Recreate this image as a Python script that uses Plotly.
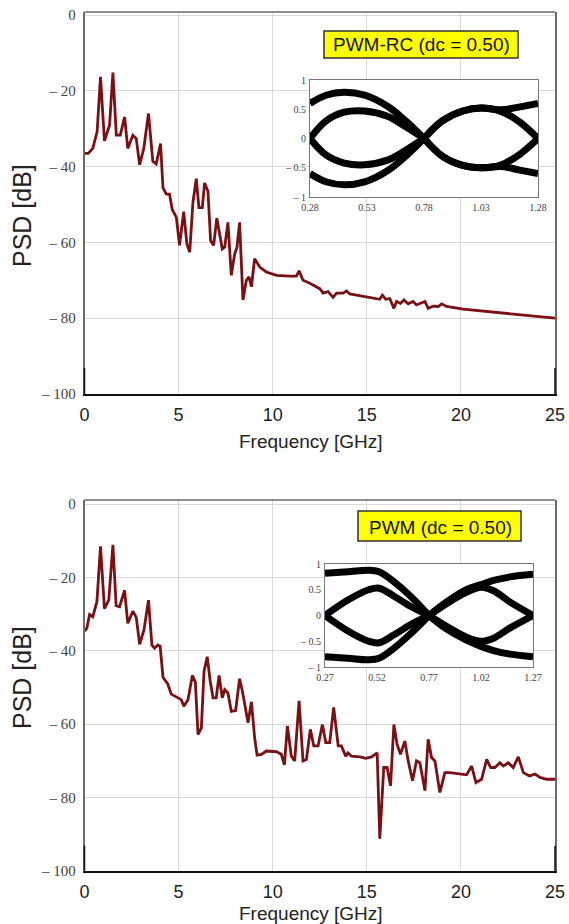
import plotly.graph_objects as go

# ---------------- data ----------------
freq_rc = [0, 0.2, 0.44, 0.67, 0.85, 1.06, 1.33, 1.51, 1.69, 1.9,
           2.13, 2.3, 2.57, 2.75, 2.93, 3.15, 3.4, 3.63, 3.81, 4.04,
           4.17, 4.34, 4.52, 4.66, 4.88, 5.05, 5.27, 5.44, 5.59, 5.76,
           5.94, 6.08, 6.26, 6.38, 6.56, 6.7, 6.86, 7.03, 7.18, 7.32,
           7.45, 7.62, 7.8, 7.98, 8.1, 8.24, 8.42, 8.6, 8.74, 8.87,
           9.04, 9.31, 9.66, 10.2, 10.9, 11.26, 11.4, 11.61, 11.97, 12.23,
           12.5, 12.68, 12.94, 13.21, 13.39, 13.74, 13.92, 14.1, 15.69, 15.83,
           16.01, 16.22, 16.44, 16.58, 16.79, 16.97, 17.2, 17.46, 17.64, 18.09,
           18.26, 18.53, 18.8, 18.97, 19.24, 20.12, 21.36, 22.78, 25.0]
psd_rc = [-36.5, -36.5, -35.2, -30.8, -16.3, -33.2, -29.1, -15.2, -31.7, -31.7,
          -26.9, -35.2, -31.7, -32.6, -39.5, -35.2, -26.0, -38.6, -39.3, -33.9,
          -45.6, -47.2, -47.3, -51.3, -53.4, -60.8, -51.9, -60.4, -62.6, -49.5,
          -43.2, -50.8, -50.8, -44.3, -46.5, -59.5, -60.8, -53.6, -57.8, -61.7,
          -61.2, -54.7, -68.7, -63.0, -61.3, -54.7, -75.2, -70.0, -69.1, -71.7,
          -64.3, -66.5, -67.8, -68.7, -68.9, -68.9, -67.5, -70.0, -70.8, -71.5,
          -72.2, -73.4, -73.0, -74.5, -73.4, -73.4, -72.8, -73.6, -75.0, -73.9,
          -75.0, -74.8, -77.4, -75.6, -76.1, -75.2, -76.2, -75.6, -76.5, -75.6,
          -77.4, -76.8, -76.9, -76.2, -76.9, -77.6, -78.2, -78.9, -80.0]

freq_pwm = [0, 0.12, 0.27, 0.44, 0.66, 0.85, 1.06, 1.29, 1.51, 1.68,
            1.86, 2.13, 2.3, 2.57, 2.75, 2.93, 3.16, 3.4, 3.58, 3.72,
            3.9, 4.02, 4.17, 4.43, 4.61, 4.96, 5.14, 5.28, 5.5, 5.73,
            5.89, 6.03, 6.21, 6.35, 6.52, 6.68, 6.83, 7.0, 7.15, 7.32,
            7.45, 7.62, 7.8, 8.03, 8.24, 8.39, 8.6, 8.69, 8.87, 9.04,
            9.17, 9.4, 9.66, 10.2, 10.46, 10.62, 10.78, 10.99, 11.17, 11.40,
            11.61, 11.79, 12.0, 12.18, 12.41, 12.64, 12.82, 13.03, 13.24, 13.48,
            13.65, 13.88, 14.0, 14.18, 14.63, 14.95, 15.25, 15.55, 15.69, 15.90,
            16.08, 16.26, 16.44, 16.61, 16.79, 17.02, 17.20, 17.43, 17.64, 17.82,
            18.09, 18.26, 18.44, 18.62, 18.88, 19.15, 19.41, 19.86, 20.30, 20.57,
            20.80, 21.10, 21.37, 21.58, 21.81, 22.07, 22.25, 22.52, 22.78, 23.05,
            23.32, 23.64, 23.94, 24.20, 24.56, 25.0]
psd_pwm = [-34.6, -33.9, -30.1, -30.7, -26.6, -11.5, -28.5, -26.2, -11.1, -27.7,
           -28.0, -23.5, -32.5, -29.2, -30.9, -38.2, -34.3, -26.2, -38.4, -39.3,
           -38.4, -38.8, -47.2, -49.1, -51.8, -52.8, -53.3, -55.1, -53.3, -46.7,
           -48.5, -62.8, -61.0, -45.6, -41.6, -48.3, -52.8, -52.8, -46.7, -52.8,
           -50.6, -51.5, -56.5, -56.3, -47.6, -51.0, -57.8, -59.6, -53.9, -63.7,
           -68.4, -68.2, -67.3, -67.5, -68.2, -71.1, -60.5, -68.7, -70.0, -53.6,
           -70.0, -69.6, -61.4, -65.9, -65.9, -60.1, -65.0, -65.0, -55.4, -65.9,
           -65.9, -68.7, -67.8, -68.7, -68.9, -69.3, -68.9, -67.8, -91.2, -71.8,
           -71.8, -76.8, -60.1, -65.5, -68.2, -64.6, -70.0, -75.4, -70.0, -70.5,
           -78.1, -64.1, -69.1, -70.0, -78.6, -73.2, -73.2, -73.6, -73.8, -71.4,
           -75.9, -75.0, -69.6, -71.8, -71.8, -70.5, -71.4, -70.5, -71.8, -68.9,
           -73.2, -74.1, -73.6, -74.5, -75.0, -75.0]

freq_ticks = [0, 5, 10, 15, 20, 25]
psd_ticks = [-100, -80, -60, -40, -20, 0]
psd_ticktext = ["\u2013 100", "\u2013 80", "\u2013 60", "\u2013 40", "\u2013 20", "0"]

# eye diagram traces (time [ns], amplitude) — PWM-RC
eye_rc_left_x = [0.28, 0.35, 0.43, 0.52, 0.62, 0.70, 0.78]
eye_rc_outer_hi_l = [0.60, 0.74, 0.79, 0.74, 0.55, 0.30, 0.0]
eye_rc_inner_hi_l = [0.0, 0.30, 0.45, 0.47, 0.38, 0.20, 0.0]
eye_rc_inner_lo_l = [0.0, -0.28, -0.42, -0.45, -0.37, -0.20, 0.0]
eye_rc_outer_lo_l = [-0.60, -0.74, -0.79, -0.74, -0.55, -0.30, 0.0]
eye_rc_right_x = [0.78, 0.86, 0.95, 1.03, 1.12, 1.20, 1.28]
eye_rc_outer_hi_r = [0.0, 0.30, 0.47, 0.52, 0.49, 0.54, 0.60]
eye_rc_inner_hi_r = [0.0, 0.30, 0.47, 0.52, 0.46, 0.28, 0.0]
eye_rc_inner_lo_r = [0.0, -0.30, -0.46, -0.50, -0.45, -0.27, 0.0]
eye_rc_outer_lo_r = [0.0, -0.30, -0.46, -0.50, -0.48, -0.54, -0.60]
eye_rc_xticks = [0.28, 0.53, 0.78, 1.03, 1.28]

# eye diagram traces — PWM
eye_pwm_left_x = [0.27, 0.38, 0.48, 0.53, 0.60, 0.68, 0.77]
eye_pwm_outer_hi_l = [0.82, 0.85, 0.88, 0.85, 0.66, 0.38, 0.0]
eye_pwm_inner_hi_l = [0.0, 0.30, 0.50, 0.53, 0.38, 0.18, 0.0]
eye_pwm_inner_lo_l = [0.0, -0.30, -0.50, -0.53, -0.38, -0.18, 0.0]
eye_pwm_outer_lo_l = [-0.80, -0.83, -0.86, -0.83, -0.64, -0.36, 0.0]
eye_pwm_right_x = [0.77, 0.85, 0.95, 1.02, 1.08, 1.16, 1.27]
eye_pwm_outer_hi_r = [0.0, 0.25, 0.50, 0.60, 0.68, 0.75, 0.80]
eye_pwm_inner_hi_r = [0.0, 0.22, 0.45, 0.55, 0.48, 0.26, 0.0]
eye_pwm_inner_lo_r = [0.0, -0.20, -0.42, -0.50, -0.44, -0.24, 0.0]
eye_pwm_outer_lo_r = [0.0, -0.25, -0.48, -0.60, -0.68, -0.75, -0.80]
eye_pwm_xticks = [0.27, 0.52, 0.77, 1.02, 1.27]

eye_yticks = [-1, -0.5, 0, 0.5, 1]
eye_yticktext = ["\u2013 1", "\u2013 0.5", "0", "0.5", "1"]

# ---------------- figure ----------------
W, H = 569, 924
def px_x(p):
    return p / W
def px_y(p):
    return 1 - p / H

CURVE = "#7a1014"
SANS = "Liberation Sans, Arial, sans-serif"
SERIF = "Liberation Serif, Times New Roman, serif"

fig = go.Figure()
fig.add_trace(go.Scatter(x=freq_rc, y=psd_rc, mode="lines",
                         line=dict(color=CURVE, width=2.8), xaxis="x", yaxis="y"))
fig.add_trace(go.Scatter(x=freq_pwm, y=psd_pwm, mode="lines",
                         line=dict(color=CURVE, width=2.8), xaxis="x2", yaxis="y2"))

eye_line = dict(color="black", width=7, shape="spline", smoothing=1.0)
for xs, ys_list, ax in [
    (eye_rc_left_x, [eye_rc_outer_hi_l, eye_rc_inner_hi_l, eye_rc_inner_lo_l, eye_rc_outer_lo_l], "3"),
    (eye_rc_right_x, [eye_rc_outer_hi_r, eye_rc_inner_hi_r, eye_rc_inner_lo_r, eye_rc_outer_lo_r], "3"),
    (eye_pwm_left_x, [eye_pwm_outer_hi_l, eye_pwm_inner_hi_l, eye_pwm_inner_lo_l, eye_pwm_outer_lo_l], "4"),
    (eye_pwm_right_x, [eye_pwm_outer_hi_r, eye_pwm_inner_hi_r, eye_pwm_inner_lo_r, eye_pwm_outer_lo_r], "4"),
]:
    for ys in ys_list:
        fig.add_trace(go.Scatter(x=xs, y=ys, mode="lines", line=eye_line,
                                 xaxis="x" + ax, yaxis="y" + ax))

main_x = dict(range=[0, 25], tickvals=freq_ticks, showgrid=True, gridcolor="#d9d9d9",
              gridwidth=1, zeroline=False, showline=True, linecolor="#111", linewidth=1.5,
              ticks="outside", ticklen=4, tickcolor="rgba(0,0,0,0)", automargin=False,
              tickfont=dict(family=SANS, size=18, color="#222"))
main_y = dict(range=[-100, 0.8], tickvals=psd_ticks, ticktext=psd_ticktext, showgrid=True,
              gridcolor="#d9d9d9", gridwidth=1, zeroline=False, showline=True,
              linecolor="#6a6a6a", linewidth=1.5, mirror=True, automargin=False,
              ticks="outside", ticklen=4, tickcolor="rgba(0,0,0,0)",
              tickfont=dict(family=SERIF, size=15, color="#444"))
inset_x = dict(showgrid=False, zeroline=False, showline=True, linecolor="#777", linewidth=1,
               mirror=True, ticks="outside", ticklen=1, tickcolor="rgba(0,0,0,0)",
               automargin=False, tickfont=dict(family=SERIF, size=10, color="#444"))
inset_y = dict(range=[-1, 1], tickvals=eye_yticks, ticktext=eye_yticktext, showgrid=False,
               zeroline=False, showline=True, linecolor="#777", linewidth=1, mirror=True,
               ticks="outside", ticklen=1, tickcolor="rgba(0,0,0,0)", automargin=False,
               tickfont=dict(family=SERIF, size=10, color="#444"))

xdom = [px_x(84.5), px_x(555)]
fig.update_layout(
    width=W, height=H, margin=dict(l=0, r=0, t=0, b=0, pad=0, autoexpand=False),
    paper_bgcolor="white", plot_bgcolor="white", showlegend=False,
    xaxis=dict(main_x, domain=xdom, anchor="y"),
    yaxis=dict(main_y, domain=[px_y(394), px_y(12)], anchor="x"),
    xaxis2=dict(main_x, domain=xdom, anchor="y2"),
    yaxis2=dict(main_y, range=[-100, 1.1], domain=[px_y(871), px_y(500)], anchor="x2"),
    xaxis3=dict(inset_x, range=[0.28, 1.28], tickvals=eye_rc_xticks,
                ticktext=["%.2f" % v for v in eye_rc_xticks],
                domain=[px_x(310), px_x(538)], anchor="y3"),
    yaxis3=dict(inset_y, domain=[px_y(197), px_y(80)], anchor="x3"),
    xaxis4=dict(inset_x, range=[0.27, 1.27], tickvals=eye_pwm_xticks,
                ticktext=["%.2f" % v for v in eye_pwm_xticks],
                domain=[px_x(325), px_x(533)], anchor="y4"),
    yaxis4=dict(inset_y, domain=[px_y(667), px_y(564)], anchor="x4"),
)

shapes = []
# top border (gray) and dark bottom corner segments for each main plot
for ya in ["y", "y2"]:
    xa = "x" if ya == "y" else "x2"
    shapes.append(dict(type="line", xref=xa + " domain", yref=ya + " domain",
                       x0=0, x1=1, y0=1, y1=1, line=dict(color="#6a6a6a", width=1.5)))
    for xx in [0, 1]:
        shapes.append(dict(type="line", xref=xa + " domain", yref=ya + " domain",
                           x0=xx, x1=xx, y0=0, y1=0.068, line=dict(color="#111", width=1.5)))
# inset single vertical grid line
shapes.append(dict(type="line", xref="x3", yref="y3 domain", x0=1.03, x1=1.03, y0=0, y1=1,
                   layer="below", line=dict(color="#bbbbbb", width=1)))
shapes.append(dict(type="line", xref="x4", yref="y4 domain", x0=1.02, x1=1.02, y0=0, y1=1,
                   layer="below", line=dict(color="#bbbbbb", width=1)))
# yellow label boxes
shapes.append(dict(type="rect", xref="paper", yref="paper", x0=px_x(324), x1=px_x(518),
                   y0=px_y(58), y1=px_y(31), fillcolor="#ffff00",
                   line=dict(color="#333", width=1.5), layer="above"))
shapes.append(dict(type="rect", xref="paper", yref="paper", x0=px_x(358), x1=px_x(521),
                   y0=px_y(541), y1=px_y(511), fillcolor="#ffff00",
                   line=dict(color="#333", width=1.5), layer="above"))
fig.update_layout(shapes=shapes)

ann = []
ann.append(dict(text="PWM-RC (dc = 0.50)", x=px_x(421), y=px_y(45), xref="paper", yref="paper",
                showarrow=False, xanchor="center", yanchor="middle",
                font=dict(family=SANS, size=19, color="#111")))
ann.append(dict(text="PWM (dc = 0.50)", x=px_x(440), y=px_y(527), xref="paper", yref="paper",
                showarrow=False, xanchor="center", yanchor="middle",
                font=dict(family=SANS, size=19, color="#111")))
for yc in [216, 678]:
    ann.append(dict(text="PSD [dB]", x=px_x(22), y=px_y(yc), xref="paper", yref="paper",
                    showarrow=False, textangle=-90, xanchor="center", yanchor="middle",
                    font=dict(family=SANS, size=25, color="#222")))
for yc in [442, 913]:
    ann.append(dict(text="Frequency [GHz]", x=px_x(311), y=px_y(yc), xref="paper", yref="paper",
                    showarrow=False, xanchor="center", yanchor="middle",
                    font=dict(family=SANS, size=19, color="#222")))
fig.update_layout(annotations=ann)

fig.write_html("out.html", config={"displayModeBar": False},
               post_script="document.body.style.margin='0';document.body.style.padding='0';"
                           "document.body.style.overflow='hidden';")
